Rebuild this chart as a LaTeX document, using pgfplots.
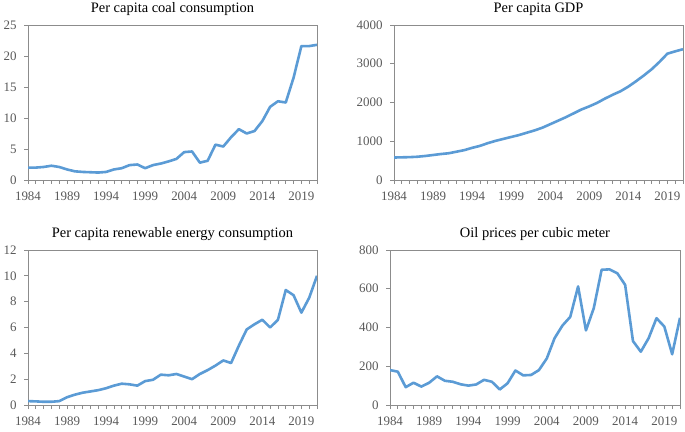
\documentclass[border=0pt]{standalone}
\usepackage{fontspec}
\setmainfont{Liberation Serif}
\usepackage{pgfplots}
\usepackage{pgfplotstable}
\pgfplotsset{compat=1.18}

\definecolor{lineblue}{HTML}{5B9BD5}
\definecolor{framegray}{HTML}{8C8C8C}
\definecolor{labelgray}{HTML}{595959}

% year, coal, gdp, renewable, oil
\pgfplotstableread{
year coal gdp renew oil
1984 2.0  580  0.30 180
1985 2.0  585  0.28 172
1986 2.1  590  0.25 92
1987 2.3  600  0.25 115
1988 2.1  620  0.30 95
1989 1.7  645  0.60 115
1990 1.4  670  0.80 148
1991 1.3  690  0.95 125
1992 1.25 730  1.05 120
1993 1.2  770  1.15 107
1994 1.3  830  1.30 100
1995 1.7  880  1.50 106
1996 1.9  950  1.65 130
1997 2.4  1010 1.60 120
1998 2.5  1060 1.50 80
1999 1.9  1110 1.85 112
2000 2.4  1160 1.95 178
2001 2.65 1220 2.35 153
2002 3.0  1280 2.30 155
2003 3.4  1350 2.40 180
2004 4.5  1440 2.20 240
2005 4.6  1530 2.00 345
2006 2.8  1620 2.40 410
2007 3.1  1720 2.70 455
2008 5.7  1820 3.05 612
2009 5.4  1900 3.45 385
2010 6.9  1990 3.25 500
2011 8.2  2100 4.60 698
2012 7.5  2200 5.85 700
2013 7.9  2290 6.25 680
2014 9.5  2410 6.60 620
2015 11.8 2550 6.00 330
2016 12.7 2700 6.60 275
2017 12.5 2860 8.90 345
2018 16.5 3050 8.50 448
2019 21.6 3260 7.15 405
2020 21.6 3320 8.30 262
2021 21.8 3375 10.0 450
}\datatable

\pgfplotsset{
  panel/.style={
    scale only axis,
    width=289bp, height=155bp,
    anchor=south west,
    xmin=1984, xmax=2021, ymin=0,
    xtick={1984,1989,...,2019},
    minor xtick={1984,...,2021},
    xtick pos=bottom, ytick pos=left,
    tick align=outside,
    major tick length=4bp, minor tick length=4bp,
    axis line style={framegray, line width=0.8pt},
    every tick/.style={framegray, line width=0.8pt},
    every minor tick/.style={framegray, line width=0.8pt},
    tick label style={font=\fontsize{13}{15}\selectfont, color=labelgray},
    xticklabel shift=4bp,
    yticklabel shift=4bp,
    /pgf/number format/1000 sep={},
    /pgf/number format/assume math mode=true,
    scaled y ticks=false,
    title style={font=\fontsize{14.5}{17}\selectfont, yshift=0bp},
  },
  curve/.style={lineblue, line width=2.6bp, line join=round, mark=none},
}

\begin{document}
\begin{tikzpicture}
\path[use as bounding box] (0,0) rectangle (685bp,432bp);

\begin{axis}[panel, at={(28bp,252bp)}, ymax=25, ytick={0,5,...,25},
  title={Per capita coal consumption}]
\addplot[curve] table[x=year, y=coal] {\datatable};
\end{axis}

\begin{axis}[panel, at={(394bp,252bp)}, ymax=4000, ytick={0,1000,...,4000},
  title={Per capita GDP}]
\addplot[curve] table[x=year, y=gdp] {\datatable};
\end{axis}

\begin{axis}[panel, at={(28bp,27bp)}, ymax=12, ytick={0,2,...,12},
  title={Per capita renewable energy consumption}]
\addplot[curve] table[x=year, y=renew] {\datatable};
\end{axis}

\begin{axis}[panel, at={(390bp,27bp)}, width=290bp, ymax=800, ytick={0,200,...,800},
  title={Oil prices per cubic meter}]
\addplot[curve] table[x=year, y=oil] {\datatable};
\end{axis}
\end{tikzpicture}
\end{document}
